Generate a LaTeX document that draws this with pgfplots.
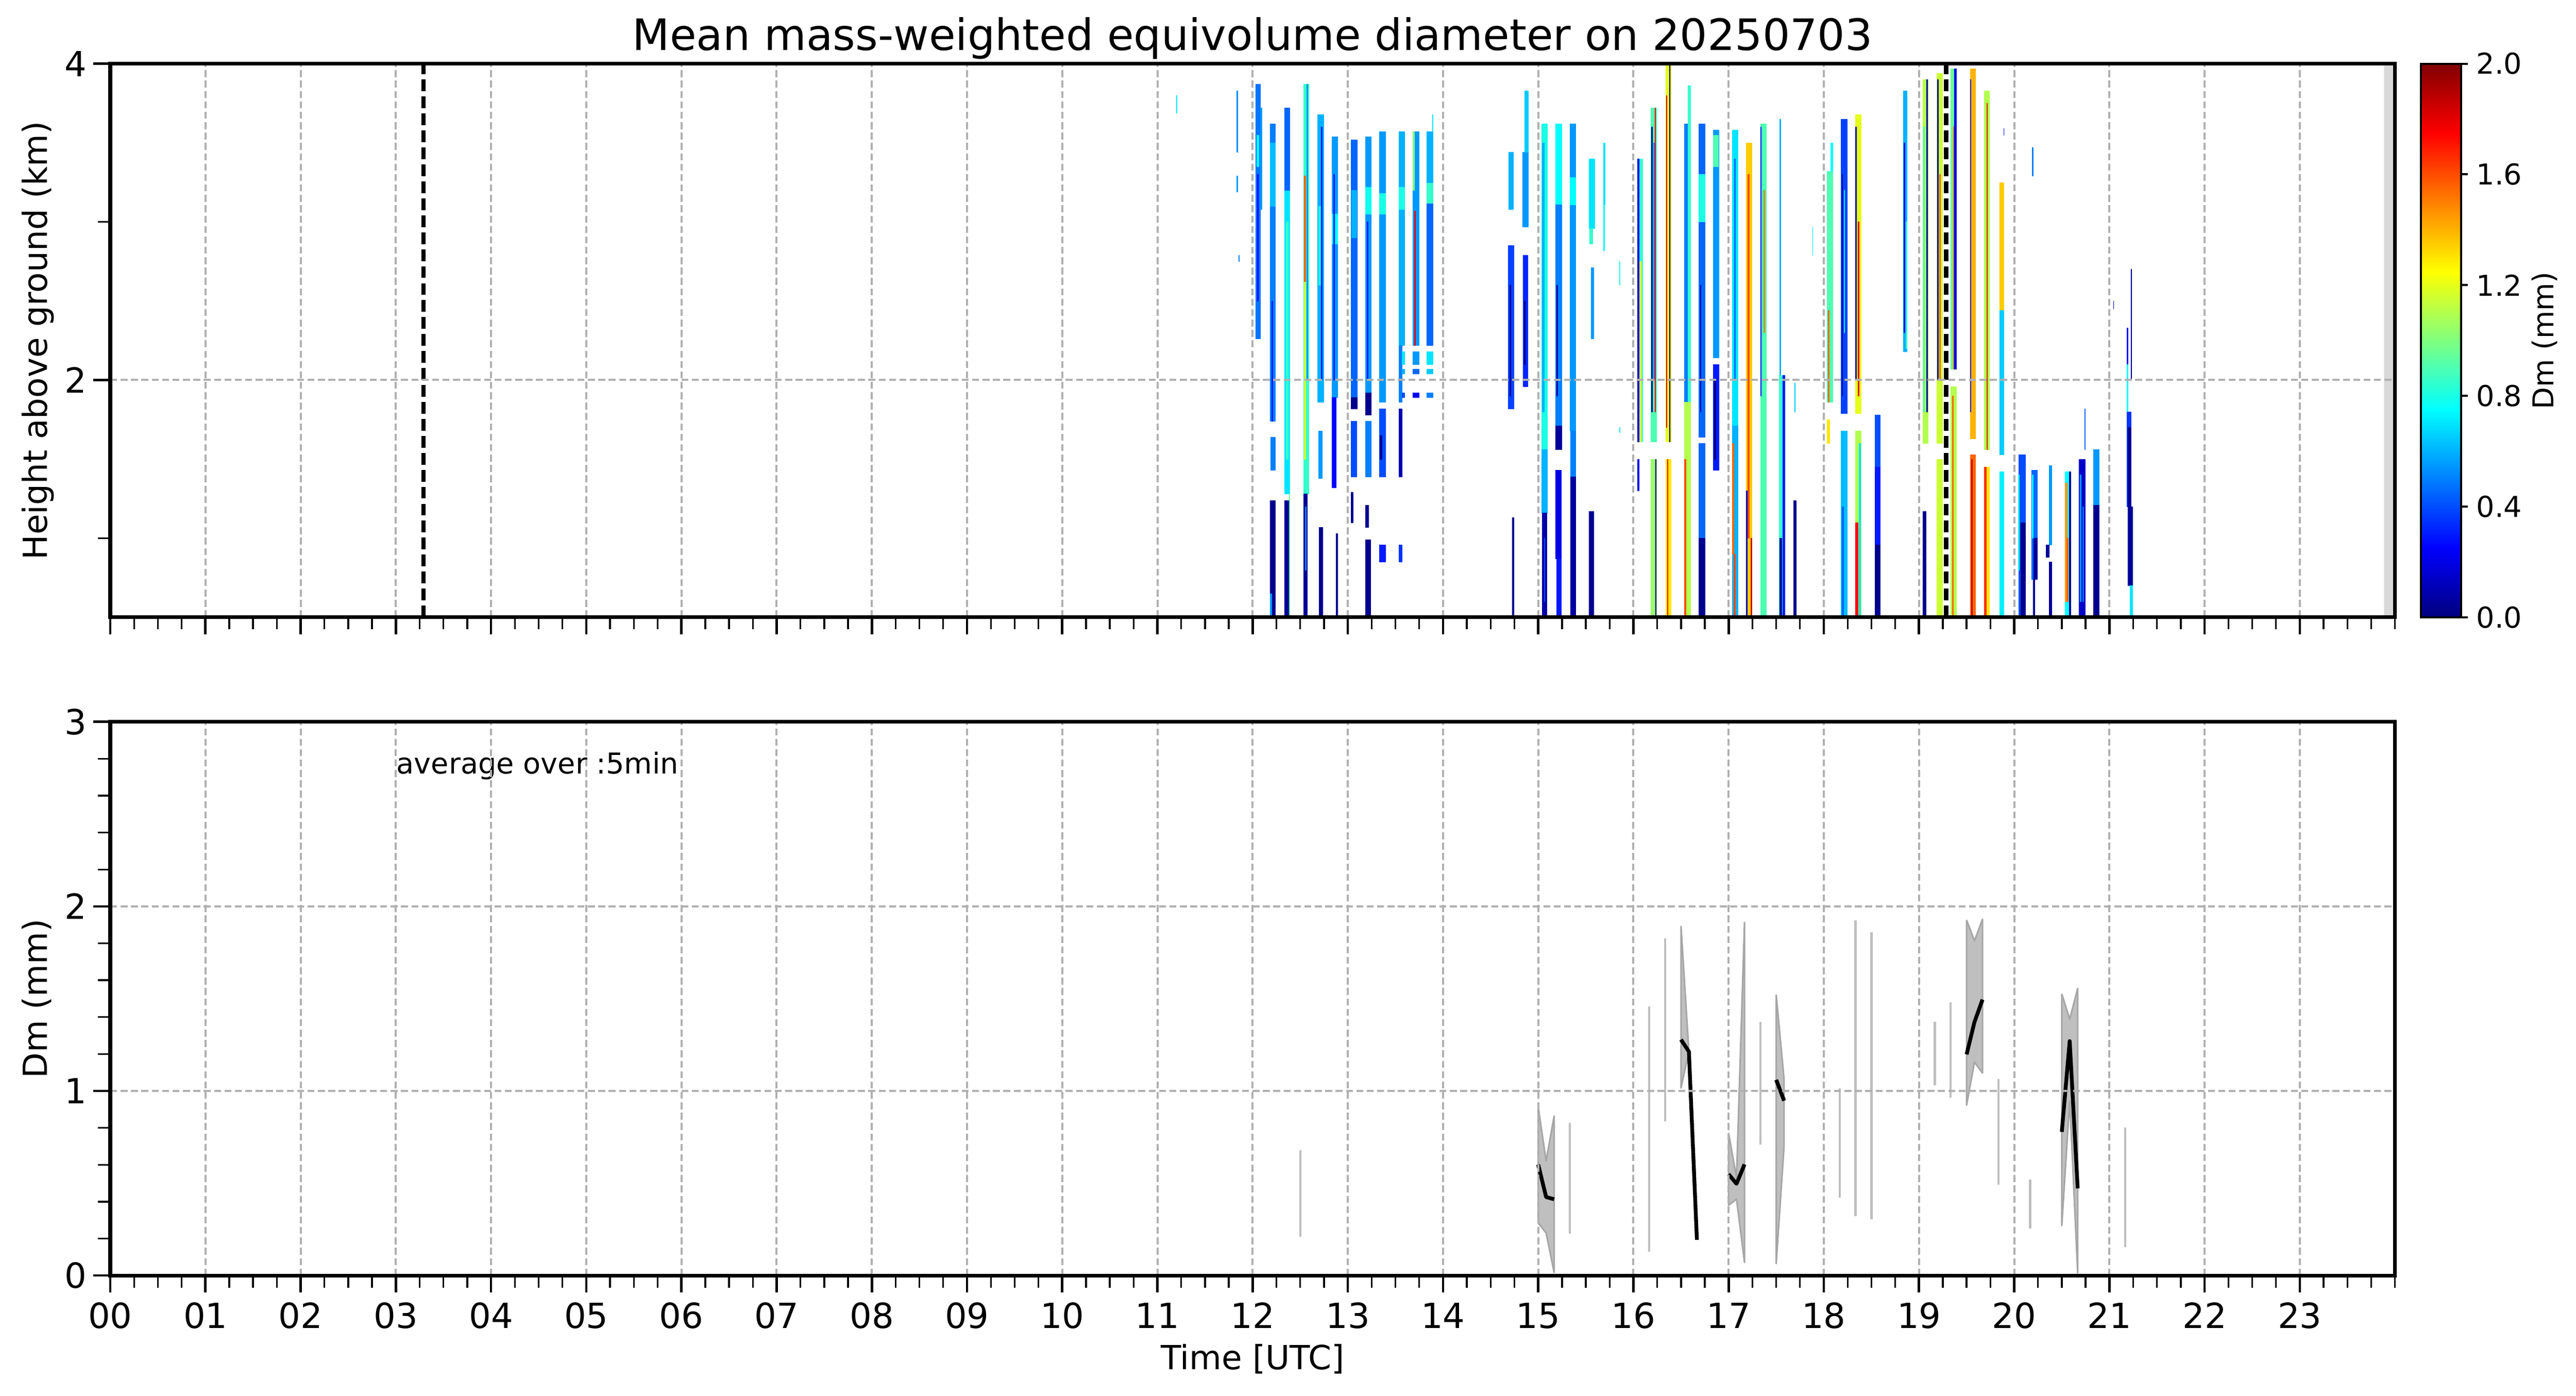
\documentclass[border=0pt]{standalone}
\usepackage{fontspec}
\setmainfont{DejaVu Sans}
\usepackage{pgfplots}
\usepackage{pgfplotstable}
\pgfplotsset{compat=1.18}
\usepgfplotslibrary{patchplots}
\definecolor{gridgray}{RGB}{176,176,176}
\definecolor{bandgray}{RGB}{217,217,217}

\pgfplotstableread{
x0 x1 y0 y1 c
11.196 11.204 3.69 3.80 0.70
11.832 11.842 3.44 3.83 0.52
11.832 11.842 3.19 3.29 0.55
11.855 11.860 2.75 2.79 0.50
12.034 12.078 2.26 3.87 0.48
12.050 12.058 2.50 3.30 0.25
12.040 12.065 3.35 3.55 0.75
12.083 12.094 3.08 3.72 0.55
12.182 12.240 1.74 3.62 0.50
12.182 12.240 3.10 3.50 0.62
12.200 12.210 1.74 2.50 0.30
12.190 12.235 1.43 1.64 0.50
12.182 12.235 0.50 1.24 0.03
12.182 12.198 0.50 0.65 0.55
12.333 12.391 1.28 3.72 0.70
12.333 12.391 3.20 3.72 0.45
12.350 12.370 1.50 3.00 0.85
12.333 12.391 0.50 1.24 0.05
12.385 12.391 0.50 1.28 0.95
12.537 12.591 1.28 3.87 0.85
12.540 12.557 2.62 3.29 1.55
12.540 12.557 1.50 2.62 1.15
12.565 12.580 2.00 3.87 0.55
12.537 12.575 0.50 1.28 0.04
12.550 12.560 0.80 1.20 0.50
12.683 12.744 1.86 3.68 0.60
12.690 12.730 2.60 3.10 0.80
12.720 12.728 2.00 3.60 0.30
12.690 12.730 1.38 1.68 0.55
12.695 12.735 0.50 1.07 0.03
12.833 12.894 1.89 3.54 0.55
12.833 12.894 2.86 3.05 0.75
12.850 12.858 2.00 3.30 0.30
12.833 12.877 1.32 1.89 0.25
12.877 12.890 0.50 1.03 0.03
13.032 13.096 1.89 3.52 0.45
13.040 13.090 2.90 3.20 0.60
13.032 13.096 1.82 1.89 0.03
13.032 13.090 1.39 1.74 0.40
13.032 13.052 1.10 1.29 0.03
13.182 13.244 1.92 3.54 0.55
13.182 13.244 3.05 3.22 0.78
13.200 13.212 2.00 3.00 0.30
13.182 13.244 1.78 1.92 0.03
13.182 13.244 1.39 1.74 0.50
13.182 13.215 1.07 1.21 0.03
13.182 13.240 0.50 0.99 0.03
13.331 13.393 1.86 3.57 0.55
13.331 13.393 3.05 3.18 0.80
13.331 13.393 1.39 1.82 0.40
13.335 13.360 1.50 1.65 0.05
13.331 13.393 0.85 0.96 0.30
13.536 13.593 2.22 3.57 0.60
13.536 13.593 3.08 3.22 0.80
13.536 13.568 1.86 2.22 0.50
13.568 13.593 2.10 2.18 0.70
13.568 13.593 2.04 2.07 0.60
13.568 13.593 1.89 1.92 0.40
13.536 13.568 1.39 1.82 0.10
13.536 13.568 0.85 0.96 0.35
13.682 13.747 2.22 3.57 0.55
13.682 13.700 3.20 3.57 1.00
13.700 13.708 2.22 3.07 1.80
13.682 13.747 2.10 2.18 0.55
13.682 13.747 2.04 2.07 0.45
13.682 13.747 1.89 1.92 0.25
13.831 13.893 2.22 3.57 0.45
13.831 13.893 3.12 3.25 0.85
13.831 13.893 3.25 3.57 0.60
13.831 13.893 2.10 2.18 0.70
13.831 13.893 2.04 2.07 0.65
13.831 13.893 1.89 1.92 0.50
13.889 13.893 3.57 3.68 0.70
14.690 14.740 3.08 3.44 0.60
14.684 14.744 1.82 2.85 0.38
14.700 14.712 1.90 2.60 0.05
14.725 14.744 0.50 1.13 0.03
14.833 14.892 2.97 3.44 0.55
14.855 14.892 3.44 3.83 0.65
14.840 14.890 1.96 2.79 0.32
14.850 14.862 2.10 2.50 0.03
15.035 15.097 1.56 3.62 0.80
15.040 15.060 1.80 3.50 0.60
15.035 15.097 1.16 1.56 0.60
15.040 15.090 0.50 1.16 0.08
15.060 15.070 0.60 1.00 0.40
15.182 15.245 3.11 3.62 0.75
15.182 15.245 1.71 3.11 0.50
15.190 15.205 1.90 2.60 0.10
15.182 15.245 1.56 1.71 0.05
15.182 15.240 0.87 1.43 0.20
15.190 15.240 0.50 0.87 0.30
15.332 15.394 1.68 3.62 0.55
15.332 15.394 3.11 3.28 0.75
15.340 15.390 1.39 1.68 0.50
15.340 15.390 0.50 1.39 0.06
15.535 15.594 2.96 3.40 0.70
15.540 15.570 2.86 2.96 0.85
15.557 15.583 2.26 2.71 0.55
15.535 15.583 0.50 1.17 0.03
15.682 15.703 3.11 3.50 0.70
15.682 15.695 2.82 3.11 0.75
15.852 15.856 2.60 2.75 0.80
15.852 15.856 1.67 1.70 0.70
16.040 16.062 1.61 3.40 0.20
16.062 16.096 1.61 3.40 0.85
16.062 16.080 1.61 2.75 1.25
16.040 16.060 1.30 1.50 0.20
16.183 16.244 1.61 3.72 0.90
16.190 16.198 1.80 3.60 0.05
16.225 16.231 1.80 3.72 1.75
16.210 16.218 2.00 3.50 0.50
16.183 16.244 0.50 1.50 1.05
16.229 16.235 0.50 1.50 0.05
16.337 16.393 1.61 3.99 1.20
16.345 16.351 1.70 3.80 1.80
16.375 16.383 1.61 3.99 0.05
16.337 16.393 0.50 1.50 1.30
16.356 16.362 0.50 1.50 1.80
16.536 16.573 1.86 3.62 0.50
16.573 16.601 1.86 3.86 0.85
16.536 16.601 0.50 1.86 1.10
16.536 16.552 0.50 1.50 1.60
16.688 16.749 1.64 3.62 0.45
16.688 16.749 3.00 3.30 0.80
16.700 16.708 1.80 2.60 0.10
16.688 16.749 1.00 1.60 0.45
16.688 16.749 0.50 1.00 0.03
16.835 16.898 2.14 3.58 0.55
16.840 16.890 3.35 3.55 0.90
16.835 16.898 1.43 2.10 0.30
16.850 16.865 1.50 2.00 0.03
17.037 17.097 1.71 3.58 0.70
17.060 17.068 2.00 3.40 0.45
17.037 17.097 0.50 1.71 0.60
17.040 17.055 0.90 1.60 1.55
17.055 17.070 0.50 0.90 1.60
17.186 17.241 0.50 3.50 1.35
17.200 17.215 1.00 3.30 1.60
17.186 17.195 0.50 1.30 0.10
17.230 17.241 0.50 1.00 1.85
17.334 17.393 0.50 3.62 0.90
17.334 17.343 1.90 3.60 0.30
17.370 17.380 2.30 3.20 1.50
17.535 17.548 2.03 3.65 0.60
17.532 17.570 0.50 2.03 0.85
17.570 17.588 0.50 2.03 0.30
17.535 17.555 0.50 1.00 0.05
17.690 17.700 1.80 1.98 0.65
17.681 17.709 0.50 1.24 0.03
17.880 17.884 2.79 2.97 0.70
18.033 18.095 1.86 3.32 0.90
18.070 18.095 3.32 3.50 0.75
18.045 18.055 1.86 2.44 1.55
18.033 18.060 1.60 1.75 1.30
18.182 18.243 1.79 3.65 0.38
18.190 18.198 1.90 3.30 0.05
18.210 18.220 2.30 3.20 0.75
18.182 18.243 0.50 1.68 0.62
18.190 18.205 0.50 1.20 0.45
18.332 18.391 1.79 3.68 1.20
18.332 18.340 2.00 3.60 0.10
18.360 18.367 1.90 3.00 1.80
18.332 18.391 0.50 1.68 1.10
18.332 18.358 0.50 1.10 1.75
18.370 18.385 0.50 1.60 0.70
18.536 18.592 1.45 1.78 0.40
18.536 18.592 0.96 1.45 0.30
18.536 18.592 0.50 0.96 0.03
18.833 18.874 2.18 3.83 0.60
18.840 18.850 2.30 3.50 0.20
18.860 18.874 2.20 3.00 0.85
19.041 19.096 1.60 3.90 1.10
19.045 19.055 1.80 3.60 0.85
19.080 19.088 1.80 3.90 0.05
19.041 19.072 0.50 1.17 0.03
19.184 19.245 1.60 3.94 1.15
19.190 19.203 2.00 3.90 0.10
19.215 19.225 2.00 3.30 1.55
19.184 19.245 0.50 1.50 1.15
19.332 19.393 2.07 3.97 0.95
19.360 19.369 2.07 3.60 1.55
19.369 19.393 2.07 3.97 0.20
19.332 19.393 0.50 1.96 1.10
19.350 19.360 0.50 1.90 1.55
19.536 19.592 1.63 3.97 1.40
19.536 19.545 1.80 3.90 0.10
19.536 19.592 0.50 1.53 1.55
19.550 19.560 0.50 1.50 1.85
19.685 19.740 1.56 3.83 1.10
19.710 19.716 1.56 3.75 1.80
19.685 19.740 0.50 1.45 1.30
19.685 19.705 0.50 1.45 1.65
19.846 19.889 2.44 3.25 1.35
19.846 19.889 1.53 2.44 0.65
19.846 19.889 0.50 1.42 0.72
19.889 19.892 3.55 3.59 0.30
20.045 20.117 0.50 1.53 0.40
20.070 20.117 0.50 1.10 0.03
20.040 20.050 0.80 1.40 0.80
20.190 20.196 3.29 3.47 0.50
20.183 20.244 0.74 1.43 0.45
20.201 20.244 0.74 1.00 0.05
20.190 20.200 1.00 1.40 0.75
20.200 20.215 0.50 0.74 0.05
20.365 20.393 0.96 1.46 0.55
20.335 20.365 0.88 0.96 0.05
20.365 20.393 0.50 0.85 0.05
20.535 20.592 0.50 1.42 0.75
20.535 20.553 0.60 1.35 1.45
20.577 20.592 0.50 1.42 0.05
20.550 20.565 0.60 1.00 1.55
20.680 20.744 0.50 1.50 0.15
20.690 20.700 0.60 1.40 0.55
20.720 20.730 0.60 1.20 0.45
20.738 20.744 1.56 1.82 0.45
20.829 20.892 1.21 1.56 0.55
20.829 20.892 0.50 1.21 0.03
21.183 21.195 1.90 2.33 0.25
21.183 21.195 1.80 2.10 0.75
21.183 21.225 1.20 1.80 0.35
21.195 21.225 1.20 1.70 0.05
21.195 21.244 0.70 1.20 0.05
21.215 21.244 0.50 0.70 0.70
21.225 21.230 2.00 2.70 0.05
21.040 21.043 2.45 2.50 0.10
}\stripdata

\pgfplotsset{
  common/.style={
    scale only axis, width=660.05pt, height=159.9pt,
    xmin=0, xmax=24, xtick={0,1,...,23}, minor xtick={0,0.25,...,24},
    tick align=outside, xtick pos=left, ytick pos=left,
    major tick length=4.9pt, minor tick length=3.5pt,
    major tick style={line width=0.7pt, black},
    minor tick style={line width=0.5pt, black},
    grid=major,
    major grid style={gridgray, line width=0.6pt, dash pattern=on 2pt off 1pt},
    axis line style={line width=1.05pt},
    axis on top,
    tick label style={font=\fontsize{10}{12}\selectfont},
    /pgf/number format/assume math mode=true,
    xticklabel style={anchor=base, yshift=-10.3pt},
    yticklabel style={anchor=east, inner sep=0pt, xshift=-1.65pt},
    every axis y label/.style={at={(axis description cs:0,0.5)}, xshift=-18.25pt, rotate=90, anchor=base, font=\fontsize{9.6}{11.5}\selectfont},
    every axis x label/.style={at={(axis description cs:0.5,0)}, yshift=-27.2pt, anchor=base, font=\fontsize{9.6}{11.5}\selectfont},
    every axis title/.style={at={(axis description cs:0.5,1)}, anchor=base, yshift=3.9pt, font=\fontsize{12.5}{15}\selectfont},
  },
  stripstyle/.style={patch, patch type=rectangle, shader=flat, point meta=explicit, line width=0.05pt},
  isol/.style={color={rgb,255:red,191;green,191;blue,191}, line width=0.65pt},
  band/.style={fill={rgb,255:red,191;green,191;blue,191}, draw={rgb,255:red,166;green,166;blue,166}, line width=0.45pt, line join=round},
  meanline/.style={black, line width=1.1pt, line join=round},
}

\begin{document}
\begin{tikzpicture}
\path[use as bounding box] (0,0) rectangle (744.2pt,403.1pt);

\begin{axis}[
  common,
  name=top, at={(31.85pt,224.8pt)}, anchor=south west,
  ymin=0.5, ymax=4, ytick={2,4}, minor ytick={1,3},
  xticklabels={},
  ylabel={Height above ground (km)},
  title={Mean mass-weighted equivolume diameter on 20250703},
  colormap/jet, point meta min=0, point meta max=2,
  colorbar,
  colorbar style={
    at={(parent axis.north east)}, anchor=north west, xshift=-1.0pt,
    scale only axis, width=11.6pt, height=159.9pt,
    ymin=0, ymax=2,
    ytick={0,0.4,0.8,1.2,1.6,2.0},
    ytick pos=right, yticklabel pos=right,
    major tick length=1.9pt, tick align=outside,
    major tick style={line width=0.6pt, black},
    axis line style={line width=0.6pt},
    yticklabel style={font=\fontsize{8.3}{10}\selectfont, anchor=west, inner sep=0pt, xshift=2.3pt,
      /pgf/number format/fixed, /pgf/number format/fixed zerofill, /pgf/number format/precision=1,
      /pgf/number format/assume math mode=true},
    ylabel={Dm (mm)},
    every axis y label/.style={at={(axis description cs:1,0.5)}, xshift=24.1pt, rotate=90, anchor=center, font=\fontsize{8.3}{10}\selectfont},
  },
]
\pgfplotstablegetrowsof{\stripdata}
\pgfmathtruncatemacro{\nstrips}{\pgfplotsretval-1}
\pgfplotsinvokeforeach{0,...,\nstrips}{%
  \pgfplotstablegetelem{#1}{x0}\of\stripdata \edef\xa{\pgfplotsretval}%
  \pgfplotstablegetelem{#1}{x1}\of\stripdata \edef\xb{\pgfplotsretval}%
  \pgfplotstablegetelem{#1}{y0}\of\stripdata \edef\ya{\pgfplotsretval}%
  \pgfplotstablegetelem{#1}{y1}\of\stripdata \edef\yb{\pgfplotsretval}%
  \pgfplotstablegetelem{#1}{c}\of\stripdata \edef\cc{\pgfplotsretval}%
  \edef\doplot{\noexpand\addplot[stripstyle] coordinates {(\xa,\ya) [\cc] (\xb,\ya) [\cc] (\xb,\yb) [\cc] (\xa,\yb) [\cc]};}%
  \doplot
}
\addplot[fill=bandgray, draw=none] coordinates {(23.885,0.5) (24,0.5) (24,4) (23.885,4) (23.885,0.5)};
\addplot[black, line width=1.3pt, dash pattern=on 3.4pt off 1.5pt] coordinates {(3.29,0.5) (3.29,4)};
\addplot[black, line width=1.3pt, dash pattern=on 3.4pt off 1.5pt] coordinates {(19.286,0.5) (19.286,4)};
\end{axis}

\begin{axis}[
  common,
  name=bottom, at={(31.85pt,34.7pt)}, anchor=south west,
  ymin=0, ymax=3, ytick={0,1,2,3},
  minor ytick={0.2,0.4,0.6,0.8,1.2,1.4,1.6,1.8,2.2,2.4,2.6,2.8},
  xticklabels={00,01,02,03,04,05,06,07,08,09,10,11,12,13,14,15,16,17,18,19,20,21,22,23},
  xlabel={Time [UTC]},
  ylabel={Dm (mm)},
]
\addplot[isol] coordinates {(12.5,0.21) (12.5,0.68)};
\addplot[isol] coordinates {(15.333,0.226) (15.333,0.826)};
\addplot[isol] coordinates {(16.167,0.130) (16.167,1.459)};
\addplot[isol] coordinates {(16.333,0.834) (16.333,1.828)};
\addplot[isol] coordinates {(17.333,0.710) (17.333,1.374)};
\addplot[isol] coordinates {(18.167,0.421) (18.167,1.015)};
\addplot[isol] coordinates {(18.333,0.321) (18.333,1.923)};
\addplot[isol] coordinates {(18.5,0.306) (18.5,1.859)};
\addplot[isol] coordinates {(19.167,1.032) (19.167,1.375)};
\addplot[isol] coordinates {(19.333,0.965) (19.333,1.480)};
\addplot[isol] coordinates {(19.833,0.492) (19.833,1.063)};
\addplot[isol] coordinates {(20.167,0.254) (20.167,0.519)};
\addplot[isol] coordinates {(21.167,0.153) (21.167,0.802)};

\addplot[band] coordinates {(15.0,0.915) (15.083,0.620) (15.167,0.864) (15.167,0.016) (15.083,0.23) (15.0,0.285) (15.0,0.915)};
\addplot[band] coordinates {(16.5,1.894) (16.583,1.212) (16.5,1.016) (16.5,1.894)};
\addplot[band] coordinates {(17.0,0.772) (17.083,0.531) (17.167,1.914) (17.167,0.070) (17.083,0.414) (17.0,0.380) (17.0,0.772)};
\addplot[band] coordinates {(17.5,1.522) (17.583,1.061) (17.583,0.703) (17.5,0.064) (17.5,1.522)};
\addplot[band] coordinates {(19.5,1.926) (19.583,1.814) (19.667,1.931) (19.667,1.097) (19.583,1.156) (19.5,0.923) (19.5,1.926)};
\addplot[band] coordinates {(20.5,1.526) (20.583,1.389) (20.667,1.556) (20.667,0.013) (20.583,0.946) (20.5,0.270) (20.5,1.526)};

\addplot[meanline] coordinates {(15.0,0.601) (15.083,0.425) (15.167,0.413)};
\addplot[meanline] coordinates {(16.5,1.278) (16.583,1.213) (16.667,0.193)};
\addplot[meanline] coordinates {(17.0,0.549) (17.083,0.497) (17.167,0.602)};
\addplot[meanline] coordinates {(17.5,1.060) (17.583,0.947)};
\addplot[meanline] coordinates {(19.5,1.198) (19.583,1.374) (19.667,1.495)};
\addplot[meanline] coordinates {(20.5,0.778) (20.583,1.270) (20.667,0.472)};

\node[anchor=base west, inner sep=0pt, font=\fontsize{8.3}{10}\selectfont] at (axis cs:3.0,2.72) {average over :5min};
\end{axis}
\end{tikzpicture}
\end{document}
